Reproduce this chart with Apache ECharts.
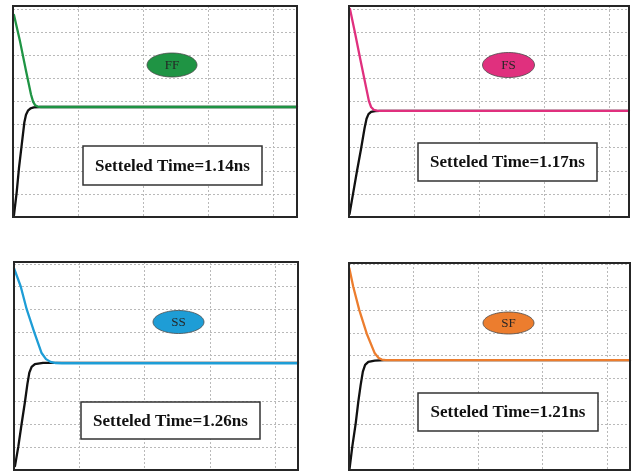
<!DOCTYPE html>
<html>
<head>
<meta charset="utf-8">
<script src="https://cdn.jsdelivr.net/npm/echarts@6/dist/echarts.min.js"></script>
<style>html,body{margin:0;padding:0;background:#fff;}#c{width:633px;height:472px;}</style>
</head>
<body>
<div id="c"></div>
<script>
// ---- data ----
const caseNames = ['FF', 'FS', 'SS', 'SF'];
const settleTimes = [1.14, 1.17, 1.26, 1.21];
const caseColors = ['#1f9444', '#e0307e', '#1e9dd6', '#ec7d2e'];

// colored (falling) curves [x, y] in grid units
const ffFall = [[0.015,8.74],[0.108,7.6],[0.2,6.33],[0.277,5.3],[0.31,4.98],[0.34,4.84],[0.38,4.78],[0.43,4.76],[4.37,4.76]];
const fsFall = [[0.015,9.0],[0.092,7.97],[0.17,6.88],[0.246,5.84],[0.308,5.0],[0.34,4.76],[0.38,4.64],[0.43,4.6],[0.477,4.59],[4.31,4.59]];
const ssFall = [[0.0,8.81],[0.103,8.01],[0.194,7.02],[0.311,6.01],[0.42,5.12],[0.49,4.84],[0.56,4.72],[0.64,4.67],[0.735,4.66],[4.35,4.66]];
const sfFall = [[0.005,8.82],[0.067,8.0],[0.16,6.99],[0.274,5.97],[0.4,5.1],[0.46,4.9],[0.51,4.83],[0.57,4.8],[4.36,4.8]];

// black (rising) curves
const ffRise = [[0.015,0.087],[0.057,1.08],[0.092,2.12],[0.134,3.12],[0.175,4.1],[0.2,4.42],[0.23,4.6],[0.27,4.7],[0.32,4.74],[0.415,4.76],[4.37,4.76]];
const fsRise = [[0.008,0.13],[0.062,1.0],[0.123,1.99],[0.185,2.94],[0.24,3.85],[0.27,4.25],[0.3,4.45],[0.34,4.55],[0.4,4.58],[0.477,4.59],[4.31,4.59]];
const ssRise = [[0.015,0.17],[0.066,1.02],[0.118,2.04],[0.168,2.98],[0.205,3.75],[0.235,4.25],[0.27,4.5],[0.32,4.62],[0.444,4.68],[4.35,4.68]];
const sfRise = [[0.008,0.04],[0.051,1.02],[0.104,2.04],[0.144,2.98],[0.18,3.7],[0.215,4.3],[0.25,4.6],[0.3,4.73],[0.4,4.78],[0.558,4.8],[4.36,4.8]];

const fallData = [ffFall, fsFall, ssFall, sfFall];
const riseData = [ffRise, fsRise, ssRise, sfRise];

// ---- layout ----
const grids = [
  {left: 13, top: 6, width: 284, height: 211, xMax: 4.37, yMax: 9.13},
  {left: 349, top: 6, width: 280, height: 211, xMax: 4.31, yMax: 9.13},
  {left: 14, top: 262, width: 284, height: 208, xMax: 4.35, yMax: 9.08},
  {left: 349, top: 263, width: 281, height: 207, xMax: 4.36, yMax: 9.05}
];
const ellipses = [
  {cx: 172, cy: 65, rx: 25, ry: 12},
  {cx: 508.5, cy: 65, rx: 26, ry: 12.5},
  {cx: 178.5, cy: 322, rx: 25.5, ry: 11.5},
  {cx: 508.5, cy: 323, rx: 25.5, ry: 11}
];
const boxes = [
  {x: 83, y: 146, w: 179, h: 39},
  {x: 418, y: 143, w: 179, h: 38},
  {x: 81, y: 402, w: 179, h: 37},
  {x: 418, y: 393, w: 180, h: 38}
];

const split = {show: true, showMinLine: false, showMaxLine: false,
  lineStyle: {color: '#b9b9b9', type: [2, 2], width: 1}};
const option = {
  animation: false,
  grid: grids.map(g => ({left: g.left, top: g.top, width: g.width, height: g.height,
    show: false})),
  xAxis: grids.map((g, i) => ({type: 'value', gridIndex: i, min: 0, max: g.xMax, interval: 1,
    axisLine: {show: false}, axisTick: {show: false}, axisLabel: {show: false}, splitLine: split})),
  yAxis: grids.map((g, i) => ({type: 'value', gridIndex: i, min: 0, max: g.yMax, interval: 1,
    axisLine: {show: false}, axisTick: {show: false}, axisLabel: {show: false}, splitLine: split})),
  series: [],
  graphic: []
};
for (let i = 0; i < 4; i++) {
  const g = grids[i];
  option.series.push({type: 'line', xAxisIndex: i, yAxisIndex: i, data: riseData[i], showSymbol: false,
    smooth: false, lineStyle: {color: '#111', width: 2.3, join: 'round', cap: 'round'}, z: 2});
  option.series.push({type: 'line', xAxisIndex: i, yAxisIndex: i, data: fallData[i], showSymbol: false,
    smooth: false, lineStyle: {color: caseColors[i], width: 2.3, join: 'round', cap: 'round'}, z: 3});
  option.graphic.push({type: 'rect', shape: {x: g.left, y: g.top, width: g.width, height: g.height},
    style: {fill: 'none', stroke: '#262626', lineWidth: 2}, z: 9});
  const e = ellipses[i];
  option.graphic.push({type: 'ellipse', shape: {cx: e.cx, cy: e.cy, rx: e.rx, ry: e.ry},
    style: {fill: caseColors[i], stroke: '#4a4a4a', lineWidth: 0.8}, z: 10});
  option.graphic.push({type: 'text', x: e.cx, y: e.cy + 1, z: 11,
    style: {text: caseNames[i], fill: '#262626', font: '13px "Liberation Serif", serif', align: 'center', verticalAlign: 'middle'}});
  const b = boxes[i];
  option.graphic.push({type: 'rect', shape: {x: b.x, y: b.y, width: b.w, height: b.h},
    style: {fill: '#fff', stroke: '#333', lineWidth: 1.5}, z: 10});
  option.graphic.push({type: 'text', x: b.x + b.w / 2, y: b.y + b.h / 2 + 1, z: 11,
    style: {text: 'Setteled Time=' + settleTimes[i].toFixed(2) + 'ns', fill: '#111',
      font: 'bold 17px "Liberation Serif", serif', align: 'center', verticalAlign: 'middle'}});
}
const chart = echarts.init(document.getElementById('c'), null, {renderer: 'canvas'});
chart.setOption(option);
</script>
</body>
</html>
